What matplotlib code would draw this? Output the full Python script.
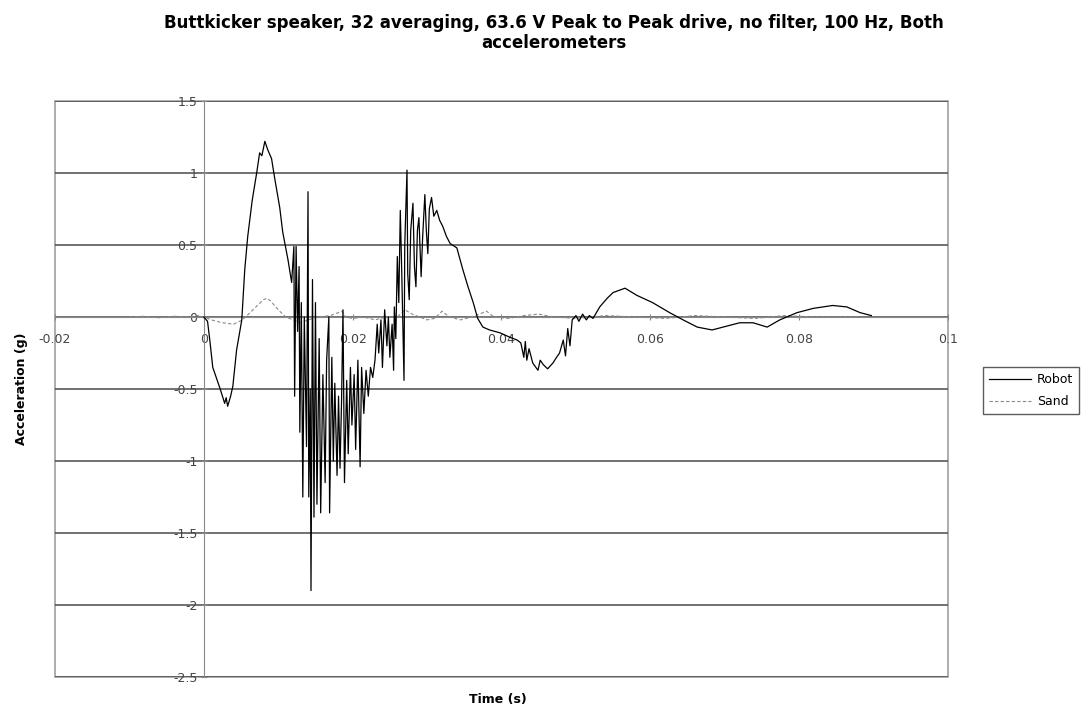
import matplotlib.pyplot as plt
import matplotlib.patches as patches

plt.rcParams['font.family'] = ['DejaVu Sans']

# Robot accelerometer (time in s, acceleration in g)
robot_t = [0.0000, 0.0005, 0.0008, 0.0012, 0.0022, 0.0028, 0.0030, 0.0032, 0.0036, 0.0039,
           0.0044, 0.0051, 0.0055, 0.0059, 0.0065, 0.0071, 0.0075, 0.0078, 0.0082, 0.0086,
           0.0091, 0.0095, 0.0102, 0.0106, 0.0113, 0.0118, 0.0121, 0.0122, 0.0124, 0.0126,
           0.0128, 0.0129, 0.0131, 0.0133, 0.0135, 0.0138, 0.0140, 0.0141, 0.0143, 0.0144,
           0.0146, 0.0148, 0.0150, 0.0152, 0.0155, 0.0157, 0.0160, 0.0163, 0.0165, 0.0168,
           0.0169, 0.0172, 0.0174, 0.0176, 0.0179, 0.0181, 0.0183, 0.0185, 0.0187, 0.0189,
           0.0192, 0.0194, 0.0197, 0.0199, 0.0202, 0.0204, 0.0207, 0.0210, 0.0212, 0.0215,
           0.0218, 0.0221, 0.0224, 0.0227, 0.0230, 0.0233, 0.0235, 0.0238, 0.0240, 0.0243,
           0.0246, 0.0248, 0.0250, 0.0253, 0.0255, 0.0256, 0.0258, 0.0260, 0.0262, 0.0264,
           0.0266, 0.0269, 0.0270, 0.0273, 0.0274, 0.0276, 0.0278, 0.0281, 0.0283, 0.0285,
           0.0287, 0.0289, 0.0292, 0.0294, 0.0297, 0.0299, 0.0301, 0.0303, 0.0306, 0.0309,
           0.0313, 0.0317, 0.0321, 0.0326, 0.0331, 0.0340, 0.0348, 0.0355, 0.0362, 0.0368,
           0.0375, 0.0384, 0.0398, 0.0411, 0.0421, 0.0426, 0.0430, 0.0432, 0.0434, 0.0437,
           0.0442, 0.0449, 0.0452, 0.0456, 0.0462, 0.0469, 0.0474, 0.0478, 0.0483, 0.0486,
           0.0489, 0.0492, 0.0495, 0.0500, 0.0504, 0.0509, 0.0514, 0.0518, 0.0523, 0.0532,
           0.0542, 0.0550, 0.0566, 0.0582, 0.0603, 0.0626, 0.0644, 0.0663, 0.0683, 0.0698,
           0.0720, 0.0738, 0.0757, 0.0774, 0.0797, 0.0819, 0.0845, 0.0864, 0.0882, 0.0897]
robot_a = [0.00, -0.03, -0.16, -0.35, -0.50, -0.60, -0.56, -0.62, -0.55, -0.48,
           -0.23, -0.02, 0.33, 0.56, 0.81, 1.00, 1.14, 1.12, 1.22, 1.16,
           1.10, 0.97, 0.76, 0.59, 0.40, 0.24, 0.49, -0.55, 0.49, -0.10,
           0.35, -0.80, 0.10, -1.25, 0.00, -0.90, 0.87, -1.25, -0.50, -1.90,
           0.26, -1.39, 0.10, -1.30, -0.15, -1.36, -0.40, -1.15, -0.30, 0.00,
           -1.36, -0.28, -1.00, -0.46, -1.10, -0.55, -1.05, -0.60, 0.05, -1.15,
           -0.44, -0.95, -0.35, -0.75, -0.40, -0.92, -0.30, -1.04, -0.35, -0.67,
           -0.37, -0.55, -0.35, -0.42, -0.30, -0.05, -0.25, -0.02, -0.35, 0.05,
           -0.20, 0.00, -0.28, -0.05, -0.37, 0.07, -0.15, 0.42, 0.10, 0.74,
           0.30, -0.44, 0.50, 1.02, 0.30, 0.12, 0.60, 0.79, 0.35, 0.21,
           0.60, 0.69, 0.28, 0.55, 0.85, 0.60, 0.44, 0.75, 0.83, 0.70,
           0.74, 0.67, 0.63, 0.56, 0.51, 0.48, 0.33, 0.21, 0.10, -0.01,
           -0.07, -0.09, -0.11, -0.14, -0.16, -0.18, -0.28, -0.17, -0.30, -0.22,
           -0.32, -0.37, -0.30, -0.33, -0.36, -0.32, -0.28, -0.25, -0.16, -0.27,
           -0.08, -0.20, -0.02, 0.01, -0.03, 0.02, -0.02, 0.01, -0.01, 0.07,
           0.13, 0.17, 0.20, 0.15, 0.10, 0.03, -0.02, -0.07, -0.09, -0.07,
           -0.04, -0.04, -0.07, -0.02, 0.03, 0.06, 0.08, 0.07, 0.03, 0.01]

# Sand accelerometer
sand_t = [-0.0100, -0.0080, -0.0060, -0.0040, -0.0020, -0.0008, 0.0000, 0.0010, 0.0025, 0.0040,
          0.0052, 0.0060, 0.0070, 0.0080, 0.0085, 0.0090, 0.0100, 0.0110, 0.0120, 0.0130,
          0.0140, 0.0155, 0.0170, 0.0186, 0.0190, 0.0200, 0.0215, 0.0230, 0.0245, 0.0260,
          0.0270, 0.0280, 0.0290, 0.0300, 0.0310, 0.0320, 0.0330, 0.0345, 0.0360, 0.0380,
          0.0390, 0.0410, 0.0430, 0.0450, 0.0470, 0.0500, 0.0540, 0.0580, 0.0620, 0.0660,
          0.0700, 0.0740, 0.0780, 0.0820, 0.0860, 0.0880]
sand_a = [0.00, 0.005, -0.005, 0.005, 0.00, 0.01, 0.00, -0.02, -0.04, -0.05,
          -0.02, 0.02, 0.07, 0.12, 0.13, 0.11, 0.05, 0.00, -0.02, -0.04,
          -0.02, 0.00, 0.01, 0.04, 0.00, -0.01, 0.00, -0.02, 0.00, 0.00,
          0.05, 0.02, 0.00, -0.02, -0.01, 0.04, 0.00, -0.02, 0.00, 0.04,
          0.00, -0.01, 0.01, 0.02, 0.00, -0.01, 0.01, 0.00, -0.01, 0.01,
          0.00, -0.01, 0.01, 0.00, 0.00, 0.00]

x_ticks = [-0.02, 0, 0.02, 0.04, 0.06, 0.08, 0.1]
x_labels = ['-0.02', '0', '0.02', '0.04', '0.06', '0.08', '0.1']
y_ticks = [-2.5, -2, -1.5, -1, -0.5, 0, 0.5, 1, 1.5]
y_labels = ['-2.5', '-2', '-1.5', '-1', '-0.5', '0', '0.5', '1', '1.5']

fig = plt.figure(figsize=(10.81, 7.12), dpi=100)
ax = fig.add_axes([55 / 1081, 1 - 677 / 712, (948 - 55) / 1081, (677 - 101) / 712])

for yv in y_ticks:
    ax.axhline(yv, color='#4a4a4a', lw=1.1, zorder=1)

line_robot, = ax.plot(robot_t, robot_a, color='black', lw=0.9, zorder=3, label='Robot')
line_sand, = ax.plot(sand_t, sand_a, color='#8a8a8a', lw=0.8, dashes=(3, 2), zorder=2, label='Sand')

ax.set_xlim(-0.02, 0.1)
ax.set_ylim(-2.5, 1.5)

# axes cross at zero, Excel style
ax.spines['left'].set_position(('data', 0))
ax.spines['bottom'].set_position(('data', 0))
ax.spines['top'].set_visible(False)
ax.spines['right'].set_visible(False)
ax.spines['left'].set_color('#888888')
ax.spines['bottom'].set_color('#888888')
ax.add_patch(patches.Rectangle((0, 0), 1, 1, transform=ax.transAxes, fill=False,
                               edgecolor='#a0a0a0', lw=1.2, zorder=0, clip_on=False))

ax.set_xticks(x_ticks)
ax.set_xticklabels(x_labels)
ax.set_yticks(y_ticks)
ax.set_yticklabels(y_labels)
ax.tick_params(axis='both', direction='inout', length=5, color='#888888',
               labelsize=9, labelcolor='#444444')
ax.tick_params(axis='x', pad=9)
ax.tick_params(axis='y', pad=2)

fig.text(0.512, 1 - 23 / 712, 'Buttkicker speaker, 32 averaging, 63.6 V Peak to Peak drive, no filter, 100 Hz, Both',
         ha='center', va='center', fontsize=12, fontweight='bold')
fig.text(0.512, 1 - 43 / 712, 'accelerometers', ha='center', va='center', fontsize=12, fontweight='bold')
fig.text(22 / 1081, 1 - 389 / 712, 'Acceleration (g)', rotation=90, ha='center', va='center',
         fontsize=9, fontweight='bold')
fig.text(498 / 1081, 1 - 700 / 712, 'Time (s)', ha='center', va='center', fontsize=9, fontweight='bold')

leg = fig.legend(handles=[line_robot, line_sand], loc='upper left',
                 bbox_to_anchor=(983 / 1081, 1 - 367 / 712), fontsize=9, frameon=True,
                 fancybox=False, handlelength=3.3, handletextpad=0.5, borderpad=0.5,
                 labelspacing=0.7, borderaxespad=0)
leg.get_frame().set_edgecolor('#333333')
leg.get_frame().set_linewidth(1.0)

plt.savefig('out.png', dpi=100)
